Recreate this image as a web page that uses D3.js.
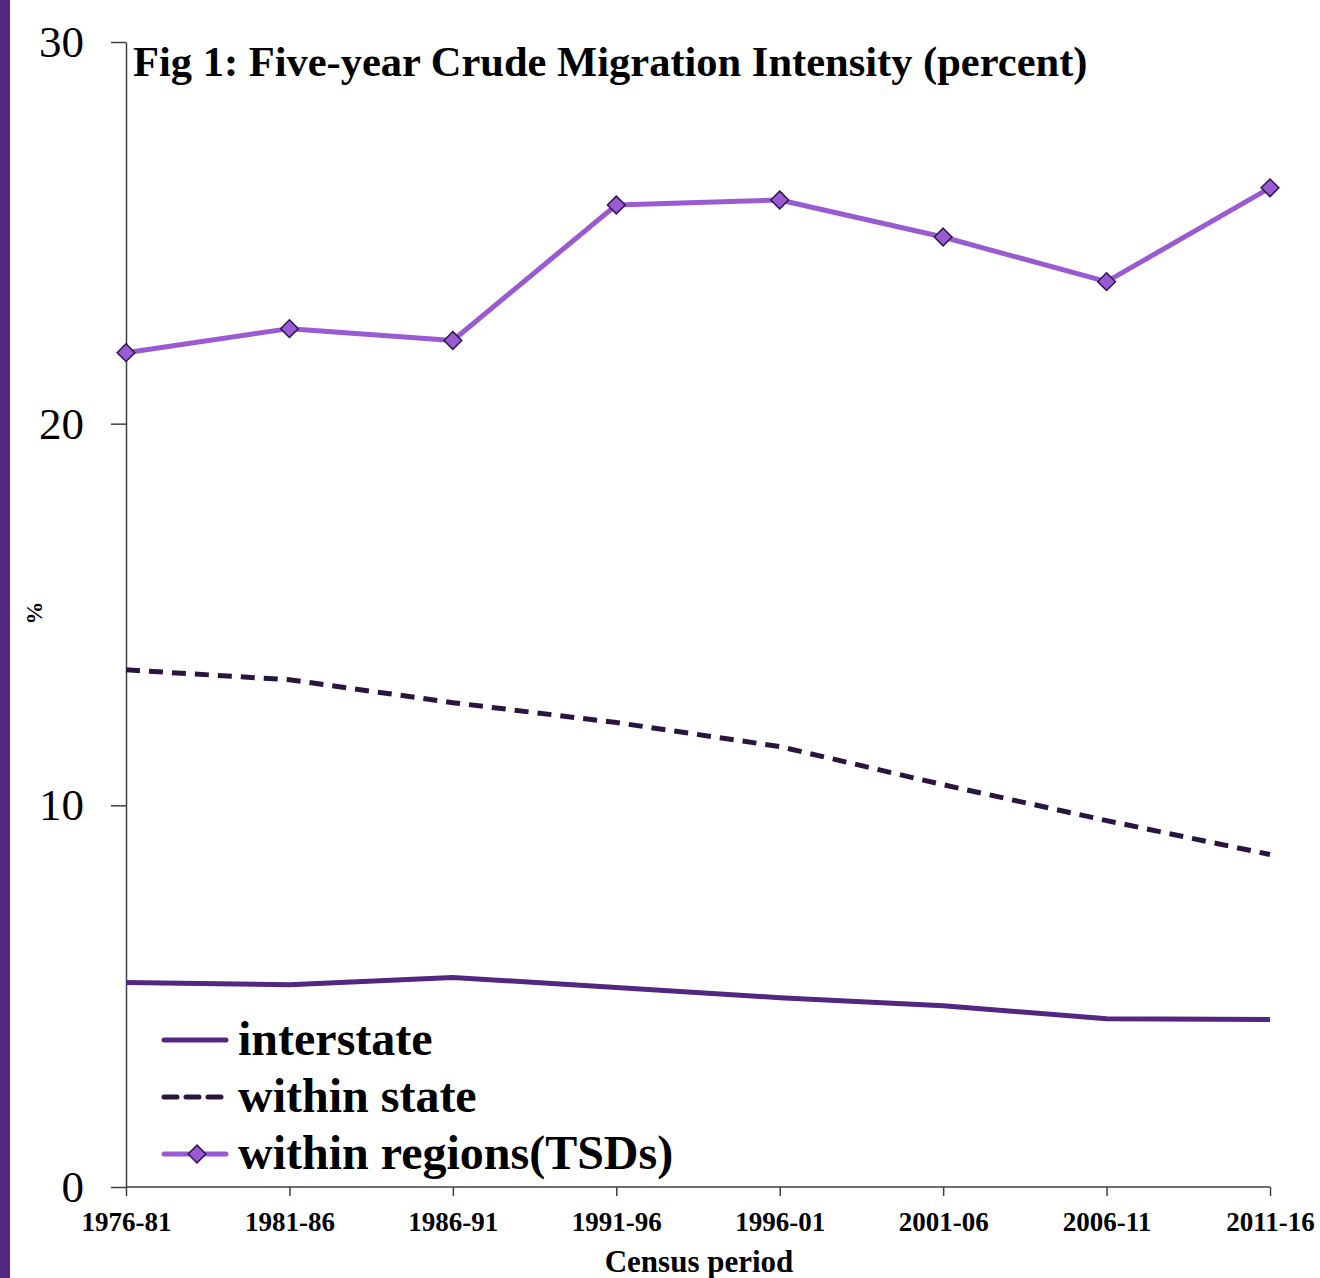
<!DOCTYPE html>
<html>
<head>
<meta charset="utf-8">
<script src="https://cdn.jsdelivr.net/npm/d3@7"></script>
<style>
  body { margin: 0; background: #fff; }
  text { font-family: "Liberation Serif", "Times New Roman", serif; }
</style>
</head>
<body>
<div id="root"></div>
<script>
const periods = ["1976-81","1981-86","1986-91","1991-96","1996-01","2001-06","2006-11","2011-16"]
const interstate = [5.36, 5.30, 5.49, 5.23, 4.96, 4.75, 4.41, 4.39]
const withinState = [13.55, 13.29, 12.69, 12.17, 11.54, 10.54, 9.60, 8.71]
const withinRegions = [21.86, 22.49, 22.18, 25.73, 25.86, 24.89, 23.72, 26.18]
const yTicks = [0, 10, 20, 30]

const width = 1320, height = 1278
const plotLeft = 126, plotRight = 1270, plotTop = 42, plotBottom = 1187

const svg = d3.select('#root').append('svg')
  .attr('width', width)
  .attr('height', height)

// purple strip on left edge
svg.append('rect')
  .attr('x', 0).attr('y', 0)
  .attr('width', 10).attr('height', height)
  .attr('fill', '#55287f')

const x = d3.scalePoint().domain(periods).range([plotLeft, plotRight])
const y = d3.scaleLinear().domain([0, 30]).range([plotBottom, plotTop])

const yAxis = svg.append('g')
  .attr('transform', `translate(${plotLeft},0)`)
  .call(d3.axisLeft(y).tickValues(yTicks).tickSize(15).tickSizeOuter(0).tickPadding(27))
yAxis.select('.domain').attr('stroke', '#404040').attr('stroke-width', 1.5)
yAxis.selectAll('.tick line').attr('stroke', '#404040').attr('stroke-width', 1.5)
yAxis.selectAll('.tick text')
  .attr('font-size', 45)
  .attr('fill', '#000')
  .style('font-family', '"Liberation Serif", serif')

const xAxis = svg.append('g')
  .attr('transform', `translate(0,${plotBottom})`)
  .call(d3.axisBottom(x).tickSize(9).tickSizeOuter(0).tickPadding(16))
xAxis.select('.domain').attr('stroke', '#404040').attr('stroke-width', 1.5)
  .attr('d', `M${plotLeft},0H${plotRight}`)
xAxis.selectAll('.tick line').attr('stroke', '#404040').attr('stroke-width', 1.5)
xAxis.selectAll('.tick text')
  .attr('font-size', 27)
  .attr('font-weight', 'bold')
  .attr('fill', '#000')
  .style('font-family', '"Liberation Serif", serif')

// axis titles
svg.append('text')
  .attr('x', 699).attr('y', 1272)
  .attr('text-anchor', 'middle')
  .attr('font-size', 31)
  .attr('font-weight', 'bold')
  .text('Census period')

svg.append('text')
  .attr('transform', 'translate(42,613) rotate(-90)')
  .attr('text-anchor', 'middle')
  .attr('font-size', 23)
  .attr('font-weight', 'bold')
  .text('%')

svg.append('text')
  .attr('x', 133).attr('y', 76)
  .attr('font-size', 42.5)
  .attr('font-weight', 'bold')
  .text('Fig 1: Five-year Crude Migration Intensity (percent)')

const line = d3.line()
  .x((d, i) => x(periods[i]))
  .y(d => y(d))

const series = [
  { name: 'interstate', values: interstate, color: '#532681', dash: null, marker: false },
  { name: 'within state', values: withinState, color: '#2a1540', dash: '14,9', marker: false },
  { name: 'within regions(TSDs)', values: withinRegions, color: '#9a5ad2', dash: null, marker: true },
]

series.forEach(s => {
  svg.append('path')
    .attr('d', line(s.values))
    .attr('fill', 'none')
    .attr('stroke', s.color)
    .attr('stroke-width', 5)
    .attr('stroke-linejoin', 'round')
    .attr('stroke-dasharray', s.dash)

  if (s.marker) {
    svg.selectAll('.m')
      .data(s.values)
      .enter()
      .append('path')
      .attr('d', d3.symbol(d3.symbolDiamond2, 200))
      .attr('transform', (d, i) => `translate(${x(periods[i])},${y(d)})`)
      .attr('fill', '#9a5ad2')
      .attr('stroke', '#2e1650')
      .attr('stroke-width', 1.5)
  }
})

// legend
const legend = svg.append('g')
series.forEach((s, i) => {
  const ly = 1040 + i * 57
  legend.append('line')
    .attr('x1', 164).attr('x2', 226)
    .attr('y1', ly).attr('y2', ly)
    .attr('stroke', s.color)
    .attr('stroke-width', 5)
    .attr('stroke-linecap', 'round')
    .attr('stroke-dasharray', s.dash ? '13,9' : null)
  if (s.marker) {
    legend.append('path')
      .attr('d', d3.symbol(d3.symbolDiamond2, 200))
      .attr('transform', `translate(197,${ly})`)
      .attr('fill', '#9a5ad2')
      .attr('stroke', '#2e1650')
      .attr('stroke-width', 1.5)
  }
  legend.append('text')
    .attr('x', 238).attr('y', ly + 15)
    .attr('font-size', 48)
    .attr('font-weight', 'bold')
    .text(s.name)
})
</script>
</body>
</html>
